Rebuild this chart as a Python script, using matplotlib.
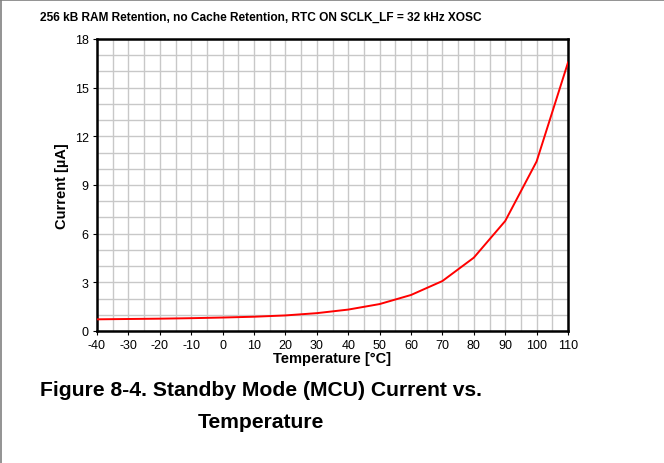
import matplotlib
matplotlib.use("Agg")
import matplotlib.pyplot as plt
from matplotlib.ticker import MultipleLocator
from matplotlib.lines import Line2D

plt.rcParams['font.family'] = ['Liberation Sans', 'DejaVu Sans']
plt.rcParams['axes.unicode_minus'] = False

temperature = [-40, -30, -20, -10, 0, 10, 20, 30, 40, 50, 60, 70, 80, 90, 100, 110]
current_uA = [0.72, 0.74, 0.76, 0.79, 0.83, 0.88, 0.96, 1.10, 1.32, 1.66, 2.22, 3.08, 4.52, 6.78, 10.45, 16.55]

x_ticks = list(range(-40, 111, 10))
y_ticks = [0, 3, 6, 9, 12, 15, 18]

title = "256 kB RAM Retention, no Cache Retention, RTC ON SCLK_LF = 32 kHz XOSC"
caption1 = "Figure 8-4. Standby Mode (MCU) Current vs."
caption2 = "Temperature"

W, H = 664, 464
fig = plt.figure(figsize=(W / 100, H / 100), dpi=100)
ax = fig.add_axes([97 / W, 1 - 332 / H, 471 / W, 292 / H])

ax.plot(temperature, current_uA, color='#ff0000', lw=1.4, zorder=3)

ax.set_xlim(-40, 110)
ax.set_ylim(0, 18)
ax.set_xticks(x_ticks)
ax.set_yticks(y_ticks)
ax.xaxis.set_minor_locator(MultipleLocator(5))
ax.yaxis.set_minor_locator(MultipleLocator(1))
ax.grid(True, which='both', color='#c8c8c8', lw=1.0, zorder=0)
ax.set_axisbelow(True)
ax.tick_params(which='major', direction='out', length=3, width=0.8, labelsize=9, pad=3)
ax.tick_params(which='minor', length=0)
for s in ax.spines.values():
    s.set_linewidth(1.8)
    s.set_color('black')

ax.set_xlabel("Temperature [°C]", fontsize=10.5, fontweight='bold', labelpad=0)
ax.set_ylabel("Current [µA]", fontsize=10.5, fontweight='bold', labelpad=4)

fig.text(261 / W, 1 - 18 / H, title, ha='center', va='center', fontsize=8.6, fontweight='bold')
fig.text(261 / W, 1 - 391 / H, caption1, ha='center', va='center', fontsize=15.2, fontweight='bold')
fig.text(261 / W, 1 - 423 / H, caption2, ha='center', va='center', fontsize=15.2, fontweight='bold')

# thin gray border on the left and top edges
fig.add_artist(Line2D([0.5 / W, 0.5 / W], [0, 1], transform=fig.transFigure, color='#808080', lw=1.2))
fig.add_artist(Line2D([0, 1], [1 - 0.5 / H, 1 - 0.5 / H], transform=fig.transFigure, color='#808080', lw=1.2))

fig.savefig("out.png", dpi=100)
